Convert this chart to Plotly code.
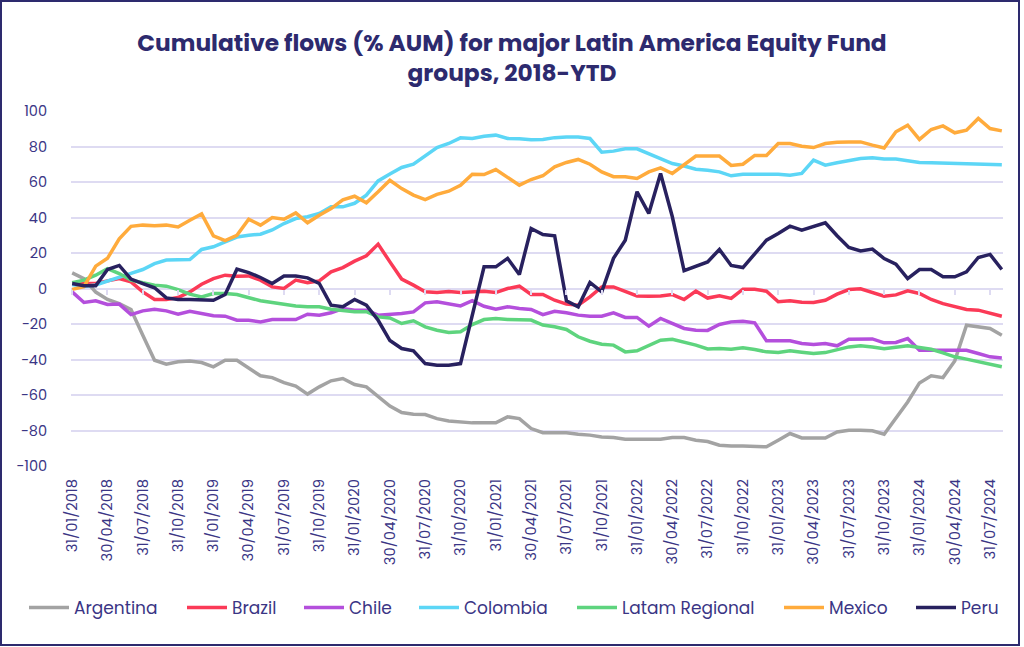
import pandas as pd
import plotly.graph_objects as go

# ---- data ----
dates = pd.date_range("2018-01-31", periods=80, freq="ME").strftime("%d/%m/%Y").tolist()
tick_labels = dates[::3]

argentina = [8.8, 5.6, -2.0, -6.2, -8.5, -11.8, -26.3, -40.4, -42.6, -41.3,
             -40.9, -41.7, -44.1, -40.4, -40.4, -45.1, -49.2, -50.2, -53.0, -55.0,
             -59.5, -55.4, -52.0, -50.7, -54.1, -55.4, -61.0, -66.2, -69.9, -70.8,
             -71.0, -73.3, -74.6, -75.1, -75.7, -75.7, -75.7, -72.3, -73.3, -78.9,
             -81.2, -81.3, -81.3, -82.1, -82.6, -83.6, -84.0, -84.9, -84.9, -84.9,
             -84.9, -84.0, -84.0, -85.5, -86.2, -88.3, -88.8, -88.8, -89.2, -89.2,
             -85.5, -81.7, -84.2, -84.2, -84.2, -80.8, -79.8, -79.8, -80.2, -82.1,
             -72.7, -63.9, -53.2, -49.2, -50.2, -40.8, -20.7, -21.6, -22.5, -26.3]
brazil = [2.8, 2.8, 2.8, 4.3, 5.6, 3.7, -1.9, -6.2, -6.2, -5.1,
          -1.9, 2.4, 5.6, 7.5, 6.9, 7.1, 4.7, 0.9, 0.0, 4.7,
          3.2, 4.3, 9.4, 11.8, 15.4, 18.4, 25.0, 15.0, 5.3, 1.9,
          -1.9, -2.3, -1.7, -2.3, -1.9, -1.5, -2.3, 0.0, 1.3, -3.4,
          -3.4, -6.6, -8.8, -9.4, -4.7, 0.9, 0.9, -1.5, -4.2, -4.3,
          -4.2, -3.4, -6.2, -1.5, -5.4, -4.1, -5.6, -0.4, -0.4, -1.5,
          -7.5, -6.9, -7.7, -7.9, -6.6, -3.2, -0.6, -0.2, -2.3, -4.3,
          -3.6, -1.3, -2.8, -6.2, -8.5, -10.3, -11.8, -12.2, -13.7, -15.6]
chile = [-1.9, -7.9, -6.9, -9.0, -8.8, -14.7, -12.6, -11.7, -12.6, -14.5,
         -12.8, -14.1, -15.4, -15.6, -17.9, -17.9, -18.8, -17.5, -17.5, -17.5,
         -14.5, -15.0, -13.7, -11.3, -12.2, -12.2, -15.0, -14.7, -14.1, -13.2,
         -8.1, -7.5, -8.5, -9.8, -6.9, -10.0, -11.7, -10.3, -11.3, -11.8,
         -14.7, -12.8, -13.7, -15.0, -15.6, -15.6, -13.7, -16.3, -16.3, -21.2,
         -16.9, -19.7, -22.5, -23.5, -23.6, -20.3, -18.8, -18.4, -19.3, -29.5,
         -29.5, -29.5, -31.0, -31.6, -31.0, -32.3, -28.6, -28.6, -28.4, -30.6,
         -30.4, -28.2, -34.8, -34.8, -34.8, -34.4, -34.8, -36.6, -38.5, -39.1]
colombia = [2.3, 1.3, 2.0, 4.0, 6.0, 8.5, 10.7, 14.0, 16.0, 16.0,
            16.3, 22.0, 23.5, 26.3, 29.0, 30.0, 30.6, 33.0, 36.6, 39.4,
            40.4, 42.3, 46.0, 46.0, 48.0, 52.6, 60.6, 64.5, 68.2, 70.0,
            74.6, 79.4, 81.7, 84.9, 84.5, 85.8, 86.4, 84.5, 84.3, 83.8,
            84.0, 85.0, 85.4, 85.4, 84.5, 76.8, 77.4, 78.7, 78.7, 76.0,
            73.2, 70.4, 69.0, 67.2, 66.6, 65.7, 63.5, 64.4, 64.4, 64.4,
            64.4, 63.8, 64.8, 72.3, 69.5, 70.8, 71.9, 73.2, 73.6, 73.0,
            72.9, 71.7, 71.0, 70.8, 70.6, 70.4, 70.6, 70.2, 69.7, 69.7]
latam_regional = [3.2, 4.7, 7.5, 11.2, 8.4, 4.7, 3.2, 1.9, 1.3, -0.6,
                  -3.2, -4.7, -2.8, -2.8, -3.4, -5.1, -6.9, -7.9, -9.0, -9.8,
                  -10.3, -10.3, -11.7, -12.6, -13.1, -13.1, -16.0, -16.6, -19.7, -18.2,
                  -21.6, -23.5, -24.8, -24.4, -20.3, -17.5, -16.9, -17.5, -17.8, -17.8,
                  -20.6, -21.6, -23.1, -27.2, -29.7, -31.4, -31.9, -35.7, -35.1, -31.9,
                  -29.1, -28.6, -30.1, -31.9, -34.1, -33.8, -34.2, -33.4, -34.4, -35.7,
                  -36.1, -35.1, -35.9, -36.6, -36.1, -34.4, -32.9, -32.3, -32.9, -34.0,
                  -32.9, -32.3, -33.2, -34.2, -36.3, -38.5, -39.8, -41.3, -42.8, -44.1]
mexico = [-0.5, 1.0, 12.6, 17.0, 28.0, 35.0, 35.7, 35.3, 35.7, 34.7,
          38.5, 42.0, 29.7, 27.0, 30.0, 39.0, 35.7, 40.0, 39.0, 42.6,
          37.0, 41.3, 45.0, 50.0, 52.0, 48.3, 54.5, 61.0, 56.3, 52.6,
          50.1, 53.0, 54.8, 58.2, 64.4, 64.2, 67.0, 62.5, 58.2, 61.4,
          63.5, 68.5, 71.0, 72.7, 70.0, 65.7, 63.0, 63.0, 62.0, 65.7,
          68.0, 64.8, 70.0, 74.6, 74.6, 74.6, 69.3, 70.0, 75.0, 75.0,
          81.7, 81.7, 80.2, 79.4, 81.7, 82.4, 82.6, 82.6, 80.8, 79.2,
          88.3, 92.0, 84.0, 89.6, 91.6, 87.7, 89.2, 95.8, 90.1, 88.8]
peru = [2.8, 1.5, 1.5, 10.7, 13.0, 5.3, 2.8, 0.4, -5.3, -6.2,
        -6.2, -6.6, -6.6, -3.4, 10.9, 9.0, 6.2, 2.8, 7.0, 7.0,
        6.0, 2.8, -9.4, -10.3, -6.2, -9.4, -17.9, -29.3, -33.8, -35.1,
        -42.3, -43.2, -43.2, -42.3, -15.0, 12.2, 12.2, 17.0, 7.9, 33.8,
        30.4, 29.7, -7.0, -10.3, 3.4, -1.9, 17.0, 27.2, 54.5, 42.3,
        64.8, 40.4, 10.0, 12.6, 15.0, 22.0, 13.0, 11.8, 19.7, 27.2,
        31.0, 35.1, 32.9, 34.7, 37.0, 29.7, 23.1, 21.2, 22.2, 16.9,
        13.7, 5.6, 10.7, 10.7, 6.6, 6.6, 9.4, 17.5, 19.2, 10.7]

series_names = ["Argentina", "Brazil", "Chile", "Colombia", "Latam Regional", "Mexico", "Peru"]
series_values = [argentina, brazil, chile, colombia, latam_regional, mexico, peru]
series_colors = ["#a3a3a3", "#fb3a57", "#b44fdc", "#5cd6f6", "#5ed47e", "#ffab3c", "#28215f"]
legend_left_px = [30, 188, 305, 420, 578, 785, 917]   # layout: legend entry positions

NAVY = "#2d2a6e"
TEXT = "#3a3585"
GRID = "#dedbf2"
FONT = "Poppins, Open Sans, sans-serif"

fig = go.Figure()
legend_layouts = {}
for k, (name, vals, col, lx) in enumerate(zip(series_names, series_values, series_colors, legend_left_px)):
    lname = "legend" if k == 0 else f"legend{k + 1}"
    fig.add_trace(go.Scatter(x=dates, y=vals, name=name, mode="lines", legend=lname,
                             line=dict(color=col, width=3.5)))
    legend_layouts[lname] = dict(
        orientation="h", xref="container", x=(lx - 6) / 1024, xanchor="left",
        yref="container", y=1 - 608 / 647, yanchor="middle",
        font=dict(size=17, color=TEXT, family=FONT), itemwidth=40,
        bgcolor="rgba(0,0,0,0)",
    )

# invisible helper trace so the tick-mark axis at y=0 is drawn
fig.add_trace(go.Scatter(x=[None], y=[None], xaxis="x2", showlegend=False, hoverinfo="skip"))

n = len(dates)
fig.update_layout(
    width=1024, height=647,
    paper_bgcolor="white", plot_bgcolor="white",
    margin=dict(l=71, r=21, t=111, b=181),
    font=dict(family=FONT, color=TEXT),
    title=dict(
        text="Cumulative flows (% AUM) for major Latin America Equity Fund<br>groups, 2018-YTD",
        x=0.5, xref="container", xanchor="center",
        y=1 - 51 / 647, yref="container", yanchor="middle",
        font=dict(family=FONT, size=23.3, color=NAVY, weight="bold"),
    ),
    xaxis=dict(
        type="category", categoryorder="array", categoryarray=dates,
        range=[-0.1, n - 0.9],
        tickmode="array", tickvals=tick_labels, ticktext=tick_labels,
        tickangle=-90, tickfont=dict(size=14.8, color=TEXT),
        showgrid=False, zeroline=False, showline=False,
        ticks="outside", ticklen=6, tickcolor="rgba(0,0,0,0)",
    ),
    xaxis2=dict(
        overlaying="x", anchor="free", position=0.5,
        range=[-0.1, n - 0.9], tickmode="array", tickvals=list(range(0, n, 3)),
        showticklabels=False, ticks="outside", ticklen=5, tickwidth=1.5, tickcolor=GRID,
        showgrid=False, zeroline=False, showline=False,
    ),
    yaxis=dict(
        range=[-100, 100], dtick=20, tickmode="linear",
        gridcolor=GRID, gridwidth=1.5, zeroline=False, showline=False,
        tickfont=dict(size=14.5, color=TEXT),
        ticks="outside", ticklen=20, tickcolor="rgba(0,0,0,0)",
    ),
    shapes=[dict(type="rect", xref="paper", yref="paper",
                 x0=-70 / 932, x1=(1019 - 71) / 932,
                 y0=-(645 - 466) / 355, y1=(466 - 1) / 355,
                 line=dict(color=NAVY, width=2), fillcolor="rgba(0,0,0,0)", layer="below")],
    **legend_layouts,
)

fig.write_html("out.html", post_script="document.body.style.margin='0';",
               config={"displayModeBar": False})
